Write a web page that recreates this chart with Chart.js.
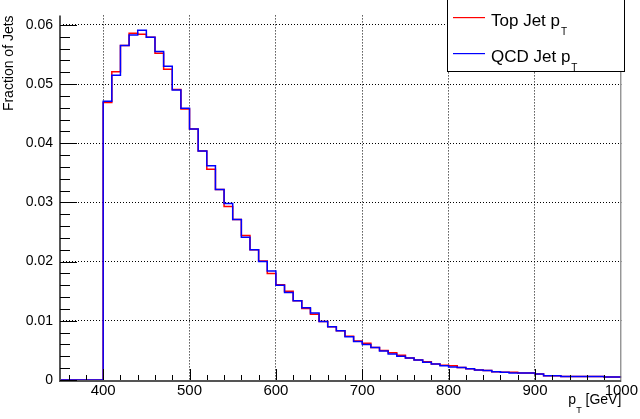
<!DOCTYPE html>
<html>
<head>
<meta charset="utf-8">
<script src="https://cdn.jsdelivr.net/npm/chart.js@4.4.1/dist/chart.umd.min.js"></script>
<style>
  html, body { margin: 0; padding: 0; background: #fff; }
  #wrap { width: 640px; height: 419px; }
</style>
</head>
<body>
<div id="wrap"><canvas id="chart" width="640" height="419"></canvas></div>
<script>
// histogram bins: 10 GeV wide, starting at 350 GeV
const binStart = 350;
const binWidth = 10;
const xMax = 1000;

const topJetPt = [
  0, 0, 0, 0, 0,
  0.0469, 0.0521, 0.0565, 0.0586, 0.0584, 0.0579, 0.0552, 0.0525, 0.0491, 0.0458,
  0.0424, 0.0387, 0.0356, 0.0322, 0.0293, 0.0271, 0.0244, 0.0220, 0.0201, 0.0180,
  0.0161, 0.0150, 0.0134, 0.0121, 0.0111, 0.0099, 0.0090, 0.0083, 0.0074, 0.0066,
  0.0062, 0.0055, 0.0050, 0.0046, 0.0042, 0.0037, 0.0034, 0.0031, 0.0027, 0.0025,
  0.0024, 0.0021, 0.0019, 0.0017, 0.0016, 0.0014, 0.0013, 0.0013, 0.0012, 0.0012,
  0.0010, 0.0007, 0.0007, 0.0006, 0.0006, 0.0006, 0.0006, 0.0006, 0.0005, 0.0005
];

const qcdJetPt = [
  0, 0, 0, 0, 0,
  0.0471, 0.0515, 0.0565, 0.0583, 0.0591, 0.0579, 0.0555, 0.0530, 0.0490, 0.0459,
  0.0424, 0.0387, 0.0362, 0.0322, 0.0298, 0.0271, 0.0241, 0.0220, 0.0200, 0.0184,
  0.0160, 0.0148, 0.0134, 0.0122, 0.0113, 0.0099, 0.0090, 0.0083, 0.0073, 0.0065,
  0.0060, 0.0055, 0.0049, 0.0044, 0.0040, 0.0037, 0.0034, 0.0030, 0.0027, 0.0024,
  0.0022, 0.0021, 0.0019, 0.0017, 0.0016, 0.0014, 0.0013, 0.0012, 0.0012, 0.0012,
  0.0010, 0.0007, 0.0007, 0.0006, 0.0006, 0.0006, 0.0006, 0.0006, 0.0005, 0.0005
];

const xMajorTicks = [400, 500, 600, 700, 800, 900, 1000];
const xMinorStep = 20;
const yMajorTicks = [0, 0.01, 0.02, 0.03, 0.04, 0.05, 0.06];
const yMinorStep = 0.002;
const yMax = 0.0616;

const seriesNames = ['Top Jet p', 'QCD Jet p'];
const seriesColors = ['#ff0000', '#0000ff'];

const FONT = "'Liberation Sans', Arial, sans-serif";

// turn bin contents into step points (left edges + closing edge)
function toSteps(values) {
  const pts = values.map((v, i) => ({ x: binStart + i * binWidth, y: v }));
  pts.push({ x: xMax, y: values[values.length - 1] });
  return pts;
}

const rootStyle = {
  id: 'rootStyle',
  afterDraw(chart) {
    const ctx = chart.ctx;
    const xs = chart.scales.x;
    const ys = chart.scales.y;
    const area = chart.chartArea;
    ctx.save();
    ctx.setLineDash([]);

    // frame
    ctx.strokeStyle = '#666';
    ctx.lineWidth = 1;
    ctx.beginPath();
    ctx.moveTo(area.right - 0.5, area.top);
    ctx.lineTo(area.right - 0.5, area.bottom);
    ctx.stroke();
    ctx.strokeStyle = '#555';
    ctx.lineWidth = 2;
    ctx.beginPath();
    ctx.moveTo(area.left, area.top);
    ctx.lineTo(area.left, area.bottom + 1);
    ctx.lineTo(area.right, area.bottom + 1);
    ctx.stroke();

    // inward ticks
    ctx.strokeStyle = '#000';
    ctx.lineWidth = 1;
    ctx.beginPath();
    for (let v = 360; v < xMax; v += xMinorStep) {
      const px = Math.round(xs.getPixelForValue(v)) + 0.5;
      const len = xMajorTicks.includes(v) ? 11 : 5;
      ctx.moveTo(px, area.bottom);
      ctx.lineTo(px, area.bottom - len);
    }
    for (let i = 0; i * yMinorStep <= yMax; i++) {
      const v = i * yMinorStep;
      const py = Math.round(ys.getPixelForValue(v)) + 0.5;
      const len = i % 5 === 0 ? 17 : 10;
      ctx.moveTo(area.left, py);
      ctx.lineTo(area.left + len, py);
    }
    ctx.stroke();

    // legend box
    const lx = 447, ly = -1, lw = 177, lh = 72;
    ctx.fillStyle = '#fff';
    ctx.fillRect(lx, ly, lw, lh);
    ctx.strokeStyle = '#000';
    ctx.lineWidth = 1;
    ctx.strokeRect(lx + 0.5, ly + 0.5, lw, lh);
    const rows = [17, 53];
    seriesNames.forEach((name, i) => {
      const y = rows[i];
      ctx.fillStyle = seriesColors[i];
      ctx.fillRect(453, y, 32, 1.2);
      ctx.fillStyle = '#000';
      ctx.textAlign = 'left';
      ctx.textBaseline = 'alphabetic';
      ctx.font = '17px ' + FONT;
      ctx.fillText(name, 491, y + 9);
      const w = ctx.measureText(name).width;
      ctx.font = '10px ' + FONT;
      ctx.fillText('T', 492 + w, y + 17.5);
    });

    // x axis title with subscript
    ctx.fillStyle = '#000';
    ctx.textBaseline = 'alphabetic';
    ctx.font = '14px ' + FONT;
    const rest = ' [GeV]';
    const wRest = ctx.measureText(rest).width;
    ctx.font = '9px ' + FONT;
    const wSub = ctx.measureText('T').width;
    ctx.font = '14px ' + FONT;
    const wP = ctx.measureText('p').width;
    const x0 = area.right - wRest - wSub - wP;
    ctx.textAlign = 'left';
    ctx.fillText('p', x0, 404);
    ctx.font = '9px ' + FONT;
    ctx.fillText('T', x0 + wP, 413);
    ctx.font = '14px ' + FONT;
    ctx.fillText(rest, x0 + wP + wSub, 404);

    ctx.restore();
  }
};

new Chart(document.getElementById('chart'), {
  type: 'line',
  data: {
    datasets: [
      {
        label: seriesNames[0],
        data: toSteps(topJetPt),
        borderColor: seriesColors[0],
        borderWidth: 1.5,
        stepped: true,
        pointRadius: 0,
        fill: false,
        order: 2
      },
      {
        label: seriesNames[1],
        data: toSteps(qcdJetPt),
        borderColor: seriesColors[1],
        borderWidth: 1.5,
        stepped: true,
        pointRadius: 0,
        fill: false,
        order: 1
      }
    ]
  },
  options: {
    responsive: false,
    animation: false,
    devicePixelRatio: 1,
    layout: { padding: { left: 0, right: 17, top: 0, bottom: 0 } },
    plugins: {
      legend: { display: false },
      tooltip: { enabled: false }
    },
    scales: {
      x: {
        type: 'linear',
        min: binStart,
        max: xMax,
        afterFit(scale) { scale.height = 39; },
        afterBuildTicks(scale) { scale.ticks = xMajorTicks.map(v => ({ value: v })); },
        ticks: {
          color: '#000',
          font: { family: FONT, size: 15 },
          maxRotation: 0,
          padding: 2,
          callback: v => String(v)
        },
        grid: {
          drawTicks: false,
          color: c => (c.tick && c.tick.value < xMax) ? '#000' : 'rgba(0,0,0,0)',
          lineWidth: 1
        },
        border: { display: false, dash: [1, 2] }
      },
      y: {
        min: 0,
        max: yMax,
        afterFit(scale) { scale.width = 60; },
        afterBuildTicks(scale) { scale.ticks = yMajorTicks.map(v => ({ value: v })); },
        ticks: {
          color: '#000',
          font: { family: FONT, size: 14 },
          padding: 7,
          callback: v => v === 0 ? '0' : v.toFixed(2)
        },
        title: {
          display: true,
          text: 'Fraction of Jets',
          align: 'end',
          color: '#000',
          font: { family: FONT, size: 14 },
          padding: { top: 1, bottom: 0 }
        },
        grid: {
          drawTicks: false,
          color: c => (c.tick && c.tick.value > 0) ? '#000' : 'rgba(0,0,0,0)',
          lineWidth: 1
        },
        border: { display: false, dash: [1, 2] }
      }
    }
  },
  plugins: [rootStyle]
});
</script>
</body>
</html>
